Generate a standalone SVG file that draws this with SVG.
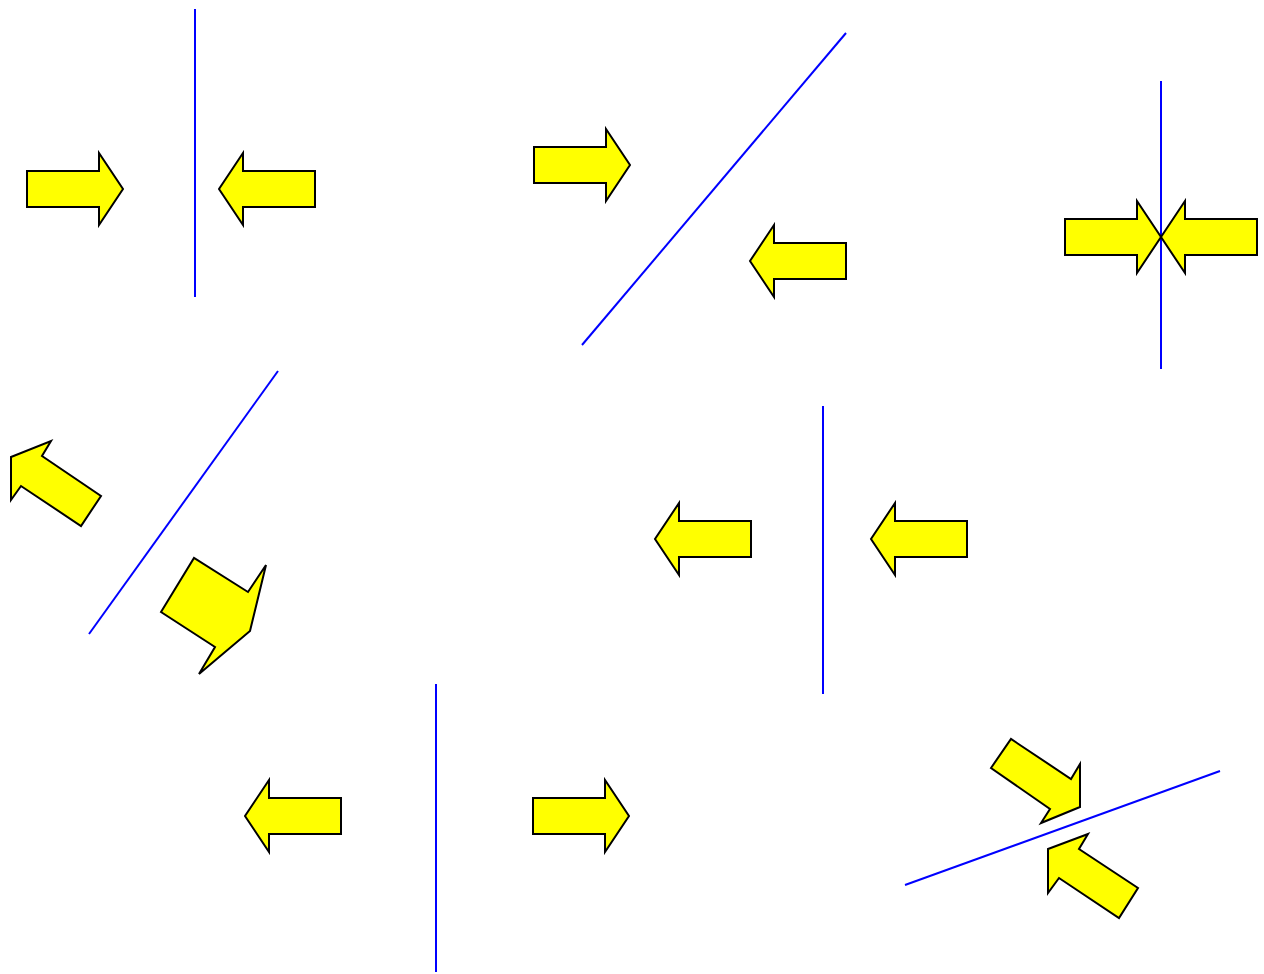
<svg xmlns="http://www.w3.org/2000/svg" xmlns:xlink="http://www.w3.org/1999/xlink" width="1264" height="974" viewBox="0 0 1264 974">
<style>
.arrow{fill:#ffff00;stroke:#000000;stroke-width:2;stroke-linejoin:miter}
.wall{stroke:#0000ff;stroke-width:2;fill:none}
</style>
<defs>
<path id="harrow" d="M0,-18 H72 V-36 L96,0 L72,36 V18 H0 Z"/>
</defs>
<rect width="1264" height="974" fill="#ffffff"/>
<g id="connectors">
<line class="wall" x1="195" y1="9" x2="195" y2="297"/>
<line class="wall" x1="582" y1="345" x2="846" y2="33"/>
<line class="wall" x1="1161" y1="81" x2="1161" y2="369"/>
<line class="wall" x1="89" y1="634" x2="278" y2="371"/>
<line class="wall" x1="823" y1="406" x2="823" y2="694"/>
<line class="wall" x1="436" y1="684" x2="436" y2="972"/>
<line class="wall" x1="905" y1="885" x2="1220" y2="771"/>
</g>
<g id="arrow1"><use xlink:href="#harrow" class="arrow" transform="translate(27,189)"/></g>
<g id="arrow2"><use xlink:href="#harrow" class="arrow" transform="translate(315,189) scale(-1,1)"/></g>
<g id="arrow3"><use xlink:href="#harrow" class="arrow" transform="translate(534,165)"/></g>
<g id="arrow4"><use xlink:href="#harrow" class="arrow" transform="translate(846,261) scale(-1,1)"/></g>
<g id="arrow5"><use xlink:href="#harrow" class="arrow" transform="translate(1065,237)"/></g>
<g id="arrow6"><use xlink:href="#harrow" class="arrow" transform="translate(1257,237) scale(-1,1)"/></g>
<g id="arrow7"><polygon class="arrow" points="11,457 51,441 42,456 101,496 81,526 21,486 11,500"/></g>
<g id="arrow8"><polygon class="arrow" points="161,612 194,558 248,592 266,565 250,631 199,674 215,647"/></g>
<g id="arrow9"><use xlink:href="#harrow" class="arrow" transform="translate(751,539) scale(-1,1)"/></g>
<g id="arrow10"><use xlink:href="#harrow" class="arrow" transform="translate(967,539) scale(-1,1)"/></g>
<g id="arrow11"><use xlink:href="#harrow" class="arrow" transform="translate(341,816) scale(-1,1)"/></g>
<g id="arrow12"><use xlink:href="#harrow" class="arrow" transform="translate(533,816)"/></g>
<g id="arrow13"><polygon class="arrow" points="991,768 1011,739 1071,779 1080,764 1080,807 1041,823 1050,809"/></g>
<g id="arrow14"><polygon class="arrow" points="1048,849 1088,834 1079,849 1138,888 1119,918 1059,878 1048,893"/></g>
</svg>
